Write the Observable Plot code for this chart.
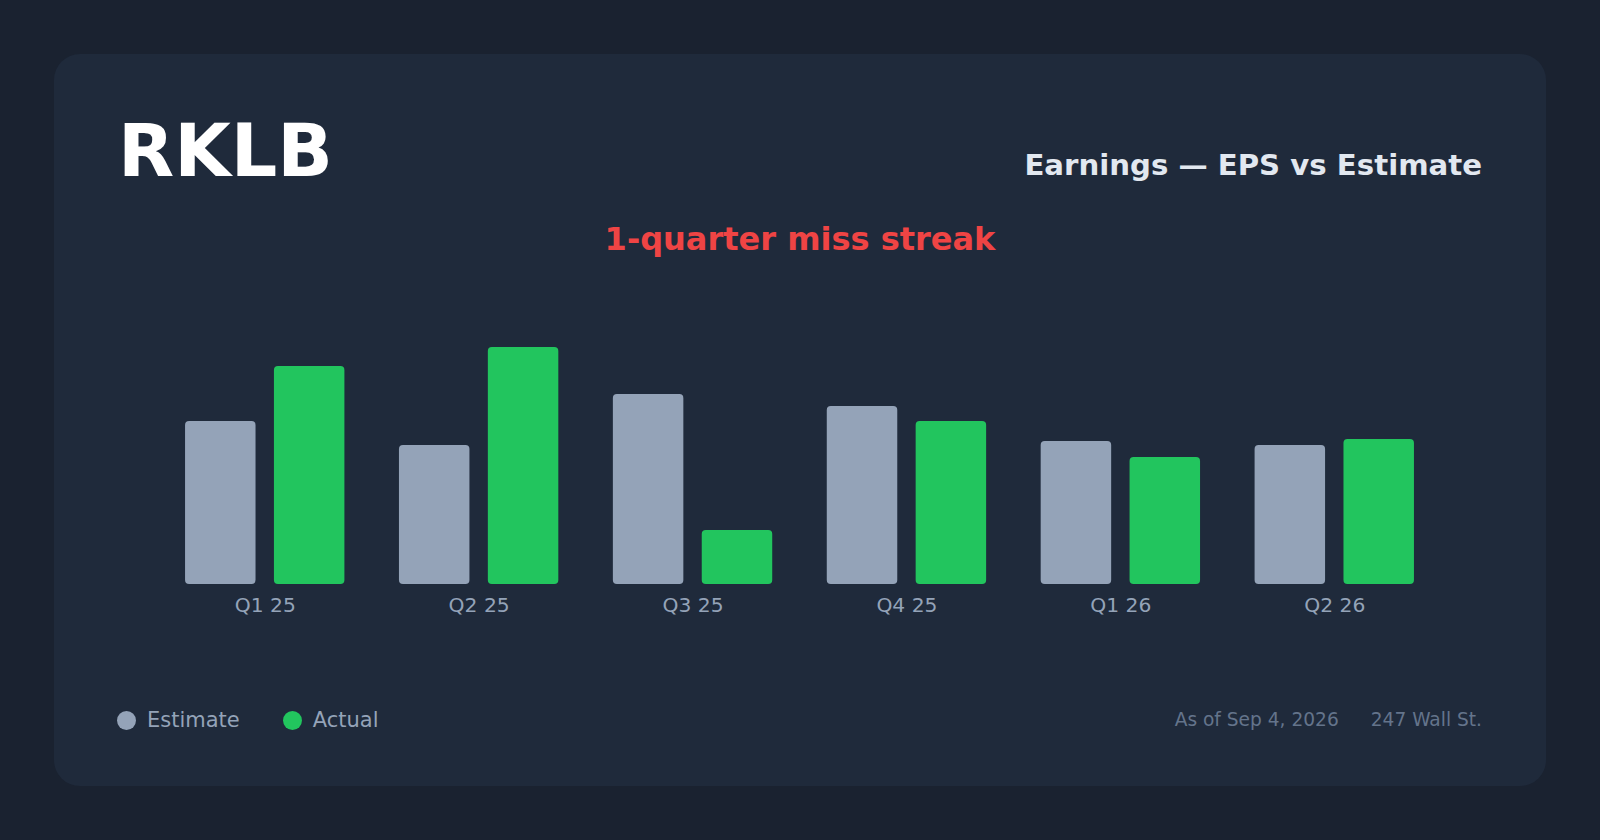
<!DOCTYPE html>
<html>
<head>
<meta charset="utf-8">
<script src="https://cdn.jsdelivr.net/npm/d3@7"></script>
<script src="https://cdn.jsdelivr.net/npm/@observablehq/plot@0.6"></script>
<style>
  html, body { margin: 0; padding: 0; }
  body { width: 1600px; height: 840px; background: #1a2230; position: relative; overflow: hidden; font-family: "DejaVu Sans", sans-serif; }
  .card { position: absolute; left: 54px; top: 54px; width: 1492px; height: 732px; background: #1f2a3b; border-radius: 26px; }
  .abs { position: absolute; white-space: nowrap; }
  #ticker { left: 118px; top: 114px; font-size: 73px; font-weight: bold; color: #ffffff; line-height: 1; }
  #subtitle { right: 118px; top: 151px; font-size: 29.2px; font-weight: bold; color: #e2e8f0; line-height: 1; }
  #streak { left: 0; width: 1600px; text-align: center; top: 223px; font-size: 32px; font-weight: bold; color: #ef4444; line-height: 1; }
  #chart { position: absolute; left: 0; top: 0; }
  #legend { left: 117px; top: 710px; font-size: 21px; color: #94a3b8; display: flex; align-items: center; line-height: 1; }
  .sw { display: inline-block; width: 19px; height: 19px; border-radius: 50%; margin-right: 11px; }
  .item { display: flex; align-items: center; margin-right: 43px; }
  #footer { right: 118px; top: 711px; font-size: 18.6px; color: #64748b; line-height: 1; }
  #footer span + span { margin-left: 32px; }
</style>
</head>
<body>
<div class="card"></div>
<div id="chart"></div>
<div class="abs" id="ticker"></div>
<div class="abs" id="subtitle"></div>
<div class="abs" id="streak"></div>
<div class="abs" id="legend"></div>
<div class="abs" id="footer"></div>
<script>
const ticker = "RKLB";
const subtitle = "Earnings — EPS vs Estimate";
const streakText = "1-quarter miss streak";
const quarters = ["Q1 25", "Q2 25", "Q3 25", "Q4 25", "Q1 26", "Q2 26"];
const seriesNames = ["Estimate", "Actual"];
const estimate = [0.163, 0.139, 0.190, 0.178, 0.143, 0.139];
const actual = [0.218, 0.237, 0.054, 0.163, 0.127, 0.145];
const seriesColors = ["#94a3b8", "#22c55e"];
const footerTexts = ["As of Sep 4, 2026", "247 Wall St."];

document.getElementById("ticker").textContent = ticker;
document.getElementById("subtitle").textContent = subtitle;
document.getElementById("streak").textContent = streakText;

const data = [];
quarters.forEach((q, i) => {
  data.push({quarter: q, series: seriesNames[0], value: estimate[i]});
  data.push({quarter: q, series: seriesNames[1], value: actual[i]});
});

const chart = Plot.plot({
  width: 1600,
  height: 660,
  marginLeft: 130.5,
  marginRight: 131.5,
  marginTop: 334,
  marginBottom: 76,
  style: {background: "transparent", fontFamily: "DejaVu Sans, sans-serif", fontSize: "20.3px", color: "#94a3b8"},
  fx: {domain: quarters, paddingInner: 0.255, paddingOuter: 0.255, round: false, label: null, tickSize: 0, tickPadding: 13},
  x: {domain: seriesNames, paddingInner: 0.207, paddingOuter: 0, round: false, axis: null},
  y: {domain: [0, 0.25], axis: null},
  color: {domain: seriesNames, range: seriesColors},
  marks: [
    Plot.barY(data, {fx: "quarter", x: "series", y: "value", fill: "series", rx: 4})
  ]
});
document.getElementById("chart").appendChild(chart);

const legend = document.getElementById("legend");
seriesNames.forEach((s, i) => {
  const item = document.createElement("div");
  item.className = "item";
  const sw = document.createElement("span");
  sw.className = "sw";
  sw.style.background = seriesColors[i];
  const t = document.createElement("span");
  t.textContent = s;
  item.appendChild(sw); item.appendChild(t);
  legend.appendChild(item);
});
const footer = document.getElementById("footer");
footerTexts.forEach(f => { const s = document.createElement("span"); s.textContent = f; footer.appendChild(s); });
</script>
</body>
</html>
